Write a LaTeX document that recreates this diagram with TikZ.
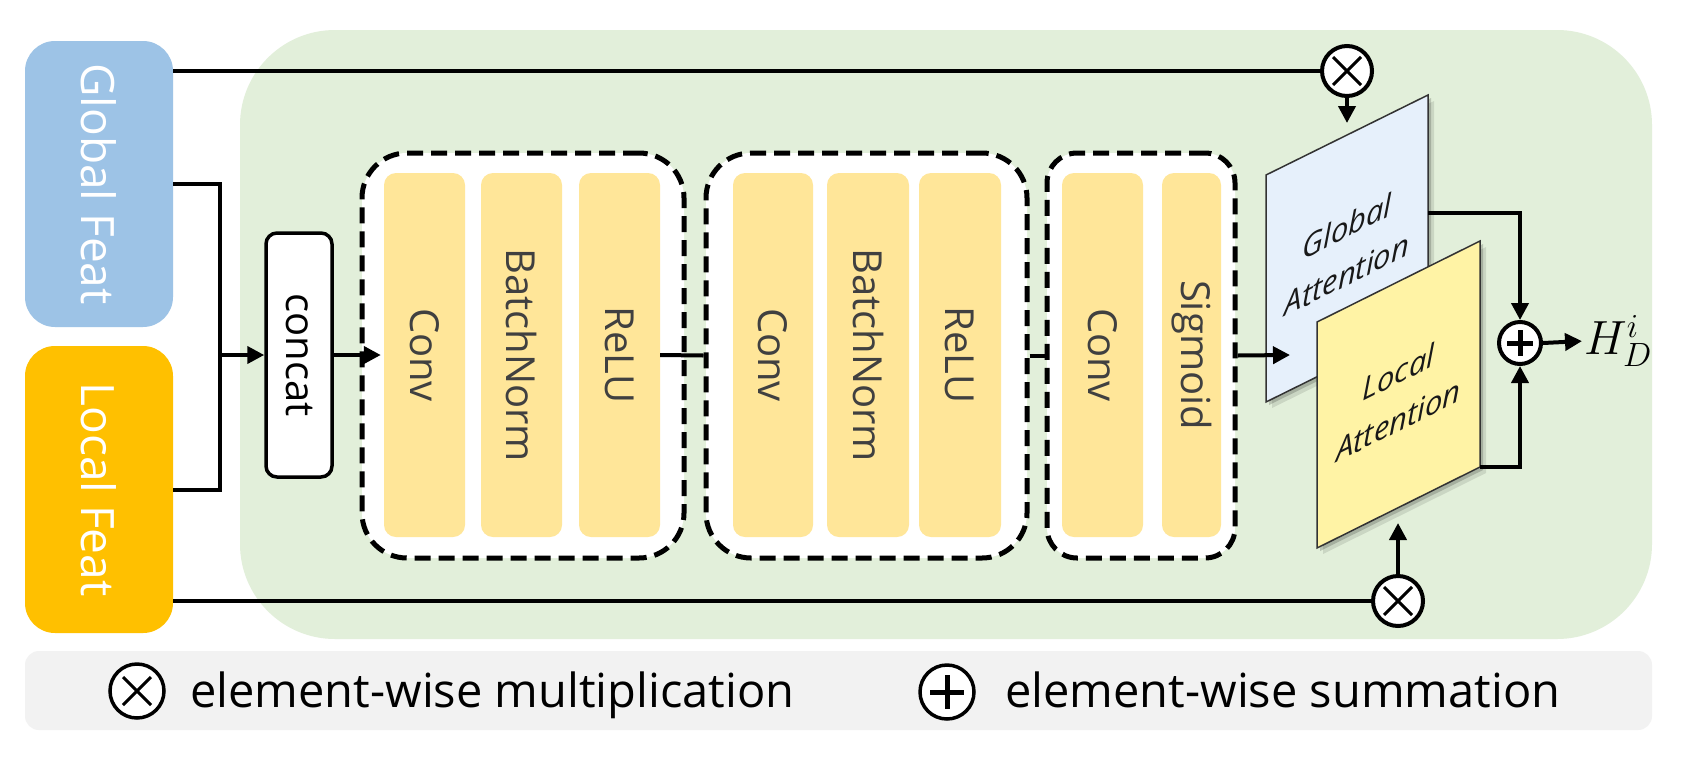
\RequirePackage{fix-cm}
\documentclass[tikz,border=0pt]{standalone}
\usepackage{fontspec}
\setmainfont{Open Sans}
\usetikzlibrary{arrows.meta}
\definecolor{bggreen}{HTML}{E2EFDA}
\definecolor{gblue}{HTML}{9DC3E6}
\definecolor{lorange}{HTML}{FFC000}
\definecolor{ylw}{HTML}{FFE699}
\definecolor{attblue}{HTML}{E6F0FB}
\definecolor{attyel}{HTML}{FFF3A5}
\definecolor{legendgray}{HTML}{F2F2F2}
\definecolor{txtgray}{HTML}{404040}
\newcommand\fs[1]{\fontsize{#1}{#1}\selectfont}
\begin{document}
\begin{tikzpicture}[x=1pt,y=-1pt,
  conn/.style={line width=4pt},
  arr/.style={line width=4pt,-{Triangle[length=17pt,width=17pt]}},
  featbox/.style={rounded corners=30pt,inner sep=0pt,minimum width=148pt},
  feattext/.style={rotate=-90,text=white,font=\fs{46},inner sep=0pt},
  ybox/.style={fill=ylw,rounded corners=12pt,inner sep=0pt,minimum height=364pt},
  ytext/.style={rotate=-90,text=txtgray,font=\fs{40},inner sep=0pt},
  dbox/.style={draw,line width=5pt,dash pattern=on 16pt off 8pt,fill=white,inner sep=0pt,minimum height=405pt},
  opc/.style={circle,draw,line width=4pt,fill=white,inner sep=0pt,minimum size=50pt},
  otimes/.style={opc,path picture={\draw[line width=3pt]
     ([shift={(-14,-14)}]path picture bounding box.center) -- ([shift={(14,14)}]path picture bounding box.center)
     ([shift={(-14,14)}]path picture bounding box.center) -- ([shift={(14,-14)}]path picture bounding box.center);}},
  oplus/.style={opc,minimum size=42pt,path picture={\draw[line width=5pt]
     ([shift={(-13,0)}]path picture bounding box.center) -- ([shift={(13,0)}]path picture bounding box.center)
     ([shift={(0,-13)}]path picture bounding box.center) -- ([shift={(0,13)}]path picture bounding box.center);}},
  lotimes/.style={opc,line width=3.5pt,minimum size=54pt,path picture={\draw[line width=3pt]
     ([shift={(-14,-14)}]path picture bounding box.center) -- ([shift={(14,14)}]path picture bounding box.center)
     ([shift={(-14,14)}]path picture bounding box.center) -- ([shift={(14,-14)}]path picture bounding box.center);}},
  loplus/.style={opc,line width=3.5pt,minimum size=54pt,path picture={\draw[line width=5pt]
     ([shift={(-17,0)}]path picture bounding box.center) -- ([shift={(17,0)}]path picture bounding box.center)
     ([shift={(0,-17)}]path picture bounding box.center) -- ([shift={(0,17)}]path picture bounding box.center);}},
  atttext/.style={font=\fontsize{31}{48}\selectfont\itshape,align=center,yslant=0.5,inner sep=0pt,text=black!90},
  legtext/.style={font=\fs{47},inner sep=0pt,anchor=base west}
]
\useasboundingbox (0,0) rectangle (1686,756);
\fill[white] (0,0) rectangle (1686,756);
% backgrounds
\node[fill=bggreen,rounded corners=95pt,inner sep=0pt,minimum width=1412pt,minimum height=609pt] (bg) at (946,334.5) {};
\node[fill=legendgray,rounded corners=14pt,inner sep=0pt,minimum width=1627pt,minimum height=79pt] (leg) at (838.5,690.5) {};
% feature boxes
\node[featbox,fill=gblue,minimum height=286pt] (gfeat) at (99,184) {};
\node[feattext] at (gfeat) {Global Feat};
\node[featbox,fill=lorange,minimum height=287pt] (lfeat) at (99,489.5) {};
\node[feattext] at (lfeat) {Local Feat};
% concat
\coordinate (jn) at (220,355);
\node[draw,line width=3.5pt,fill=white,rounded corners=11pt,inner sep=0pt,minimum width=66pt,minimum height=244pt] (concat) at (299,355) {};
\node[rotate=-90,font=\fs{40},inner sep=0pt] at (concat) {concat};
% dashed groups
\node[dbox,rounded corners=45pt,minimum width=322pt] (box1) at (523,355.5) {};
\node[dbox,rounded corners=45pt,minimum width=321pt] (box2) at (866.5,355.5) {};
\node[dbox,rounded corners=30pt,minimum width=188pt] (box3) at (1141,355.5) {};
\node[ybox,minimum width=81pt] (conv1) at (424.5,355) {};
\node[ybox,minimum width=81pt] (bn1) at (521.5,355) {};
\node[ybox,minimum width=81pt] (relu1) at (619.5,355) {};
\node[ybox,minimum width=80pt] (conv2) at (773,355) {};
\node[ybox,minimum width=82pt] (bn2) at (868,355) {};
\node[ybox,minimum width=82pt] (relu2) at (960,355) {};
\node[ybox,minimum width=81pt] (conv3) at (1102.5,355) {};
\node[ybox,minimum width=59pt] (sig) at (1191.5,355) {};
\node[ytext] at (conv1) {Conv};
\node[ytext] at (bn1) {BatchNorm};
\node[ytext] at (relu1) {ReLU};
\node[ytext] at (conv2) {Conv};
\node[ytext] at (bn2) {BatchNorm};
\node[ytext] at (relu2) {ReLU};
\node[ytext] at (conv3) {Conv};
\node[ytext] at (sig) {Sigmoid};
% operators
\node[otimes] (otop) at (1347,71) {};
\node[otimes] (obot) at (1398,601) {};
\node[oplus] (plus) at (1520,343) {};
\node[inner sep=0pt,anchor=west,font=\fs{48}] (hd) at (1584,341) {$H_D^i$};
% attention planes
\coordinate (gaTL) at (1266,175); \coordinate (gaTR) at (1428,95);
\coordinate (gaBR) at (1428,322); \coordinate (gaBL) at (1266,402);
\coordinate (laTL) at (1317,322); \coordinate (laTR) at (1480,241);
\coordinate (laBR) at (1480,467); \coordinate (laBL) at (1317,548);
\coordinate (gac) at (1347,250); \coordinate (lac) at (1398.5,396);
\coordinate (gatip) at (1347,123); \coordinate (latip) at (1398,523);
\coordinate (gin) at (1290,355);
\coordinate (gaout) at (1428,213); \coordinate (laout) at (1480,467);
\fill[black,opacity=0.10] ([shift={(6,6)}]gaTL) -- ([shift={(6,6)}]gaTR) -- ([shift={(6,6)}]gaBR) -- ([shift={(6,6)}]gaBL) -- cycle;
\fill[black,opacity=0.18] ([shift={(3,3)}]gaTL) -- ([shift={(3,3)}]gaTR) -- ([shift={(3,3)}]gaBR) -- ([shift={(3,3)}]gaBL) -- cycle;
\draw[fill=attblue,draw=black!80,line width=1.5pt] (gaTL) -- (gaTR) -- (gaBR) -- (gaBL) -- cycle;
\node[atttext] at (gac) {Global\\Attention};
\fill[black,opacity=0.10] ([shift={(6,6)}]laTL) -- ([shift={(6,6)}]laTR) -- ([shift={(6,6)}]laBR) -- ([shift={(6,6)}]laBL) -- cycle;
\fill[black,opacity=0.18] ([shift={(3,3)}]laTL) -- ([shift={(3,3)}]laTR) -- ([shift={(3,3)}]laBR) -- ([shift={(3,3)}]laBL) -- cycle;
\draw[fill=attyel,draw=black!80,line width=1.5pt] (laTL) -- (laTR) -- (laBR) -- (laBL) -- cycle;
\node[atttext] at (lac) {Local\\Attention};
% connectors
\draw[conn] (otop -| gfeat.east) -- (otop.west);
\draw[conn] (obot -| lfeat.east) -- (obot.west);
\draw[conn] (gfeat.east) -| (jn) |- (lfeat.east);
\draw[arr] (jn) -- (concat.west);
\draw[arr,shorten >=3pt] (concat.east) -- (conv1.west);
\draw[conn] (relu1.east) -- (box2.west);
\draw[conn] (box2.east) -- (box3.west);
\draw[arr] (box3.east) -- (gin);
\draw[arr] (otop.south) -- (gatip);
\draw[arr] (obot.north) -- (latip);
\draw[arr] (gaout) -| (plus.north);
\draw[arr] (laout) -| (plus.south);
\draw[arr,shorten >=2pt] (plus.east) -- (hd.west);
% legend
\node[lotimes] (lx) at (137,691) {};
\node[loplus] (lp) at (947,692) {};
\node[legtext] (lxt) at (190,707) {element-wise multiplication};
\node[legtext] (lpt) at (1005,707) {element-wise summation};
\end{tikzpicture}
\end{document}
